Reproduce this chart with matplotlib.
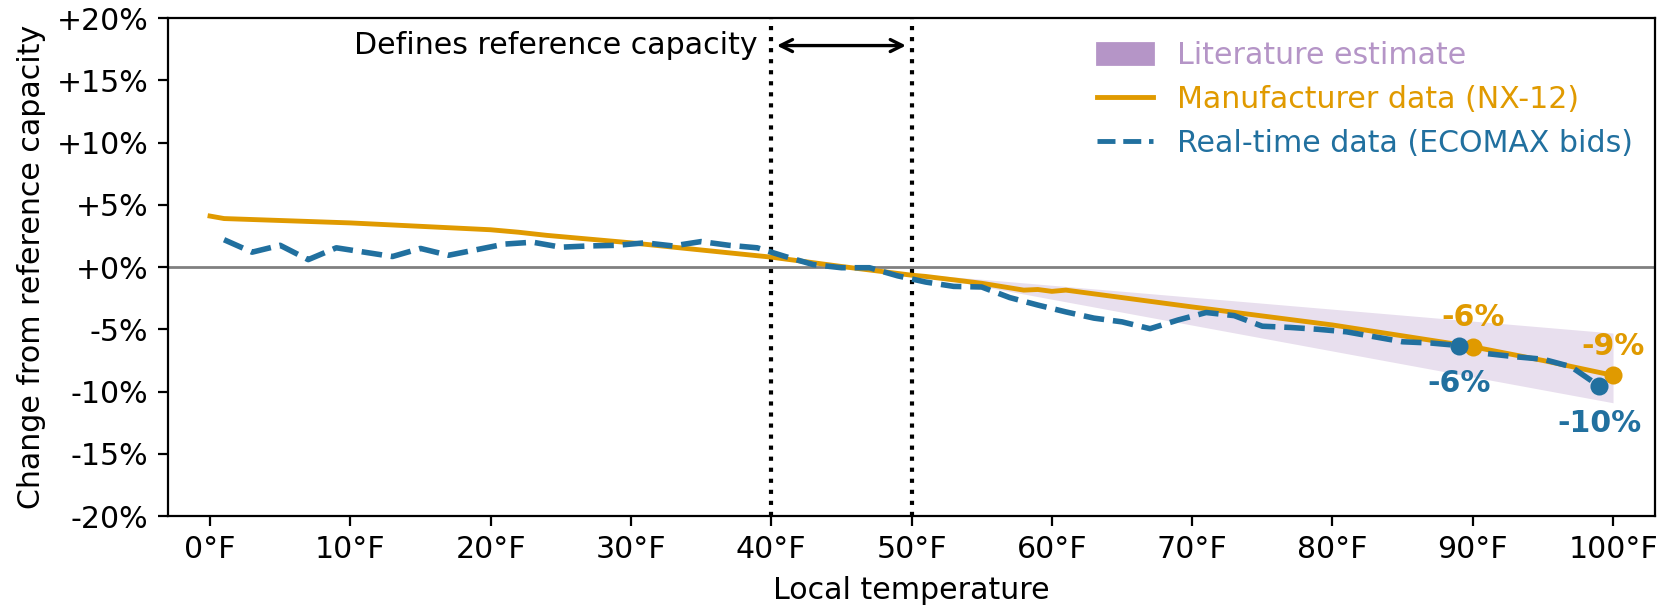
import numpy as np
import matplotlib
matplotlib.use("Agg")
from matplotlib import pyplot as plt
from matplotlib.patches import Patch

plt.rcParams["font.size"] = 10.8

# colours
orange = "#e09a00"
blue = "#21709f"
purple = "#b595c7"

# manufacturer curve (NX-12)
mfr_temp = [0, 1, 10, 20, 22, 24, 30, 40, 45, 50, 51, 55, 58, 59, 60, 61, 70, 80, 90, 95, 100]
mfr_pct = [4.1, 3.9, 3.55, 3.0, 2.8, 2.55, 1.95, 0.8, 0.05, -0.65, -0.75, -1.3, -1.85, -1.8,
           -1.95, -1.85, -3.2, -4.65, -6.4, -7.5, -8.7]

# real-time bids (ECOMAX), odd temperatures 1..99
rt_temp = list(range(1, 100, 2))
rt_pct = [2.2, 1.2, 1.75, 0.6, 1.55, 1.2, 0.85, 1.5, 0.95, 1.4,
          1.85, 2.0, 1.6, 1.7, 1.75, 1.95, 1.7, 2.05, 1.75, 1.55,
          0.85, 0.2, -0.05, -0.05, -0.7, -1.2, -1.55, -1.6, -2.45, -3.05,
          -3.6, -4.1, -4.4, -4.95, -4.25, -3.65, -3.9, -4.75, -4.85, -5.0,
          -5.2, -5.6, -6.0, -6.1, -6.3, -6.95, -7.2, -7.4, -8.0, -9.55]

# literature band
lit_temp = [50, 75, 100]
lit_low = [-0.5, -5.7, -10.9]
lit_high = [-0.5, -2.9, -5.3]

# labelled points: (temp, value, label)
mfr_marks = [(90, -6.4, "-6%"), (100, -8.7, "-9%")]
rt_marks = [(89, -6.3, "-6%"), (99, -9.55, "-10%")]

yticks = list(range(-20, 21, 5))
xticks = list(range(0, 101, 10))

fig, ax = plt.subplots(figsize=(8.355, 3.03), dpi=200)
fig.subplots_adjust(left=0.1005, right=0.9905, top=0.970, bottom=0.1485)

ax.axhline(0, color="gray", lw=1, zorder=1)
ax.fill_between(lit_temp, lit_low, lit_high, color=purple, alpha=0.3, lw=0, zorder=1)
ax.plot(mfr_temp, mfr_pct, color=orange, lw=1.75, zorder=3)
ax.plot(rt_temp, rt_pct, color=blue, lw=2, ls="--", zorder=3)

for t, v, lab in mfr_marks:
    ax.plot(t, v, "o", color=orange, ms=5.5, zorder=4)
    ax.annotate(lab, (t, v), xytext=(0, 10.5), textcoords="offset points",
                ha="center", va="center", color=orange, fontweight="bold")
for t, v, lab in rt_marks:
    ax.plot(t, v, "o", color=blue, ms=5.5, zorder=4)
    ax.annotate(lab, (t, v), xytext=(0, -13.5), textcoords="offset points",
                ha="center", va="center", color=blue, fontweight="bold")

# reference window
ax.axvline(40, color="black", ls=":", lw=1.5)
ax.axvline(50, color="black", ls=":", lw=1.5)
ax.annotate("", xy=(40, 17.8), xytext=(50, 17.8),
            arrowprops=dict(arrowstyle="<->", color="black", lw=1.2))
ax.text(39, 17.8, "Defines reference capacity", ha="right", va="center")

ax.set_xlim(-3, 103)
ax.set_ylim(-20, 20)
ax.set_xticks(xticks)
ax.set_xticklabels([f"{t}°F" for t in xticks])
ax.set_yticks(yticks)
ax.set_yticklabels([f"{v:+d}%" for v in yticks])
ax.set_xlabel("Local temperature")
ax.set_ylabel("Change from reference capacity")

handles = [Patch(color=purple),
           plt.Line2D([], [], color=orange, lw=1.75),
           plt.Line2D([], [], color=blue, lw=1.75, ls="--")]
labels = ["Literature estimate", "Manufacturer data (NX-12)", "Real-time data (ECOMAX bids)"]
leg = ax.legend(handles, labels, loc="upper right", frameon=False,
                handlelength=1.85, borderaxespad=0.35)
for txt, c in zip(leg.get_texts(), [purple, orange, blue]):
    txt.set_color(c)

fig.savefig("out.png", dpi=200)
